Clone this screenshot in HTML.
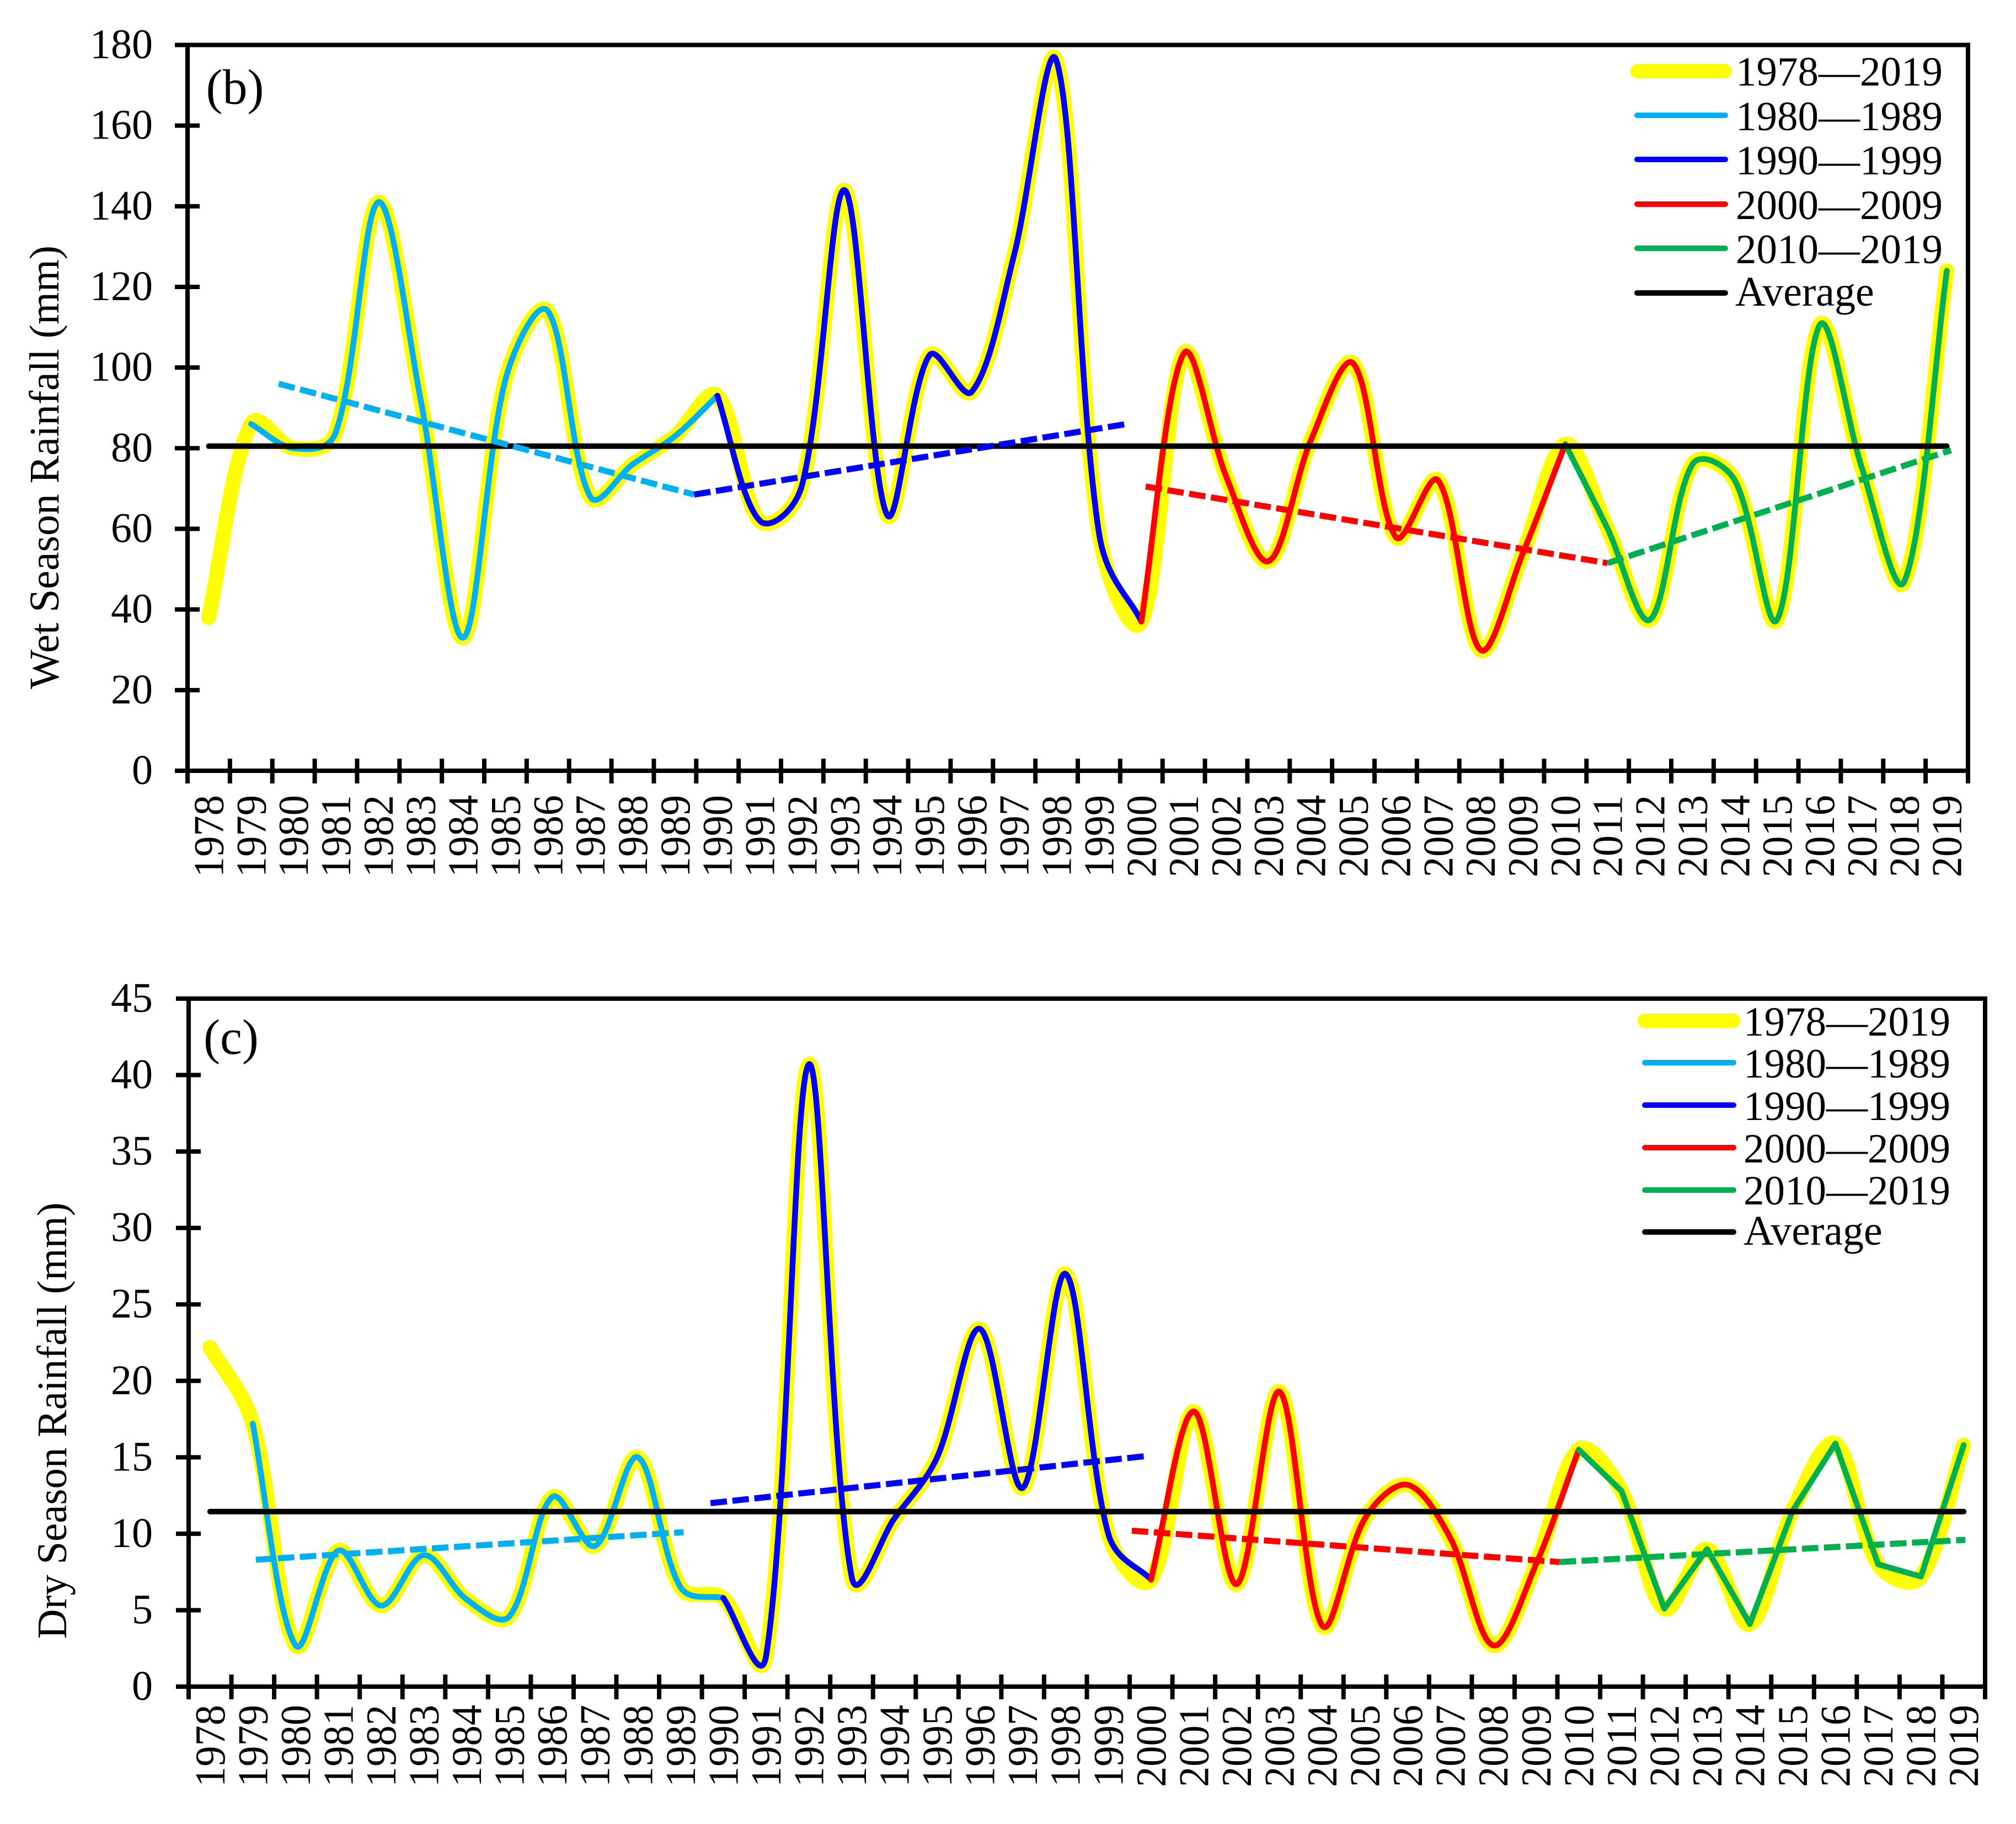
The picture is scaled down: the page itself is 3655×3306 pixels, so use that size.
<!DOCTYPE html>
<html>
<head>
<meta charset="utf-8">
<title>Wet and dry season rainfall</title>
<style>
html,body{margin:0;padding:0;background:#fff;width:3655px;height:3306px;overflow:hidden}
svg{display:block}
text{font-family:"Liberation Serif","Times New Roman",serif;fill:#000}
</style>
</head>
<body>
<svg id="chart" xmlns="http://www.w3.org/2000/svg" width="3655" height="3306" viewBox="0 0 3655 3306">
  <rect width="3655" height="3306" fill="#fff"/>
  <g id="panelB"></g>
  <g id="panelC"></g>

  <text transform="translate(106,847) rotate(-90)" text-anchor="middle" font-size="76" textLength="804" lengthAdjust="spacingAndGlyphs">Wet Season Rainfall (mm)</text>
  <text transform="translate(120,2575) rotate(-90)" text-anchor="middle" font-size="76" textLength="791" lengthAdjust="spacingAndGlyphs">Dry Season Rainfall (mm)</text>
  <text x="373.5" y="188" font-size="90">(b)</text>
  <text x="369" y="1910" font-size="90">(c)</text>

  <g>
    <line x1="2969" x2="3127" y1="129" y2="129" stroke="#FFFF00" stroke-width="26" stroke-linecap="round"/>
    <text x="3147" y="155" font-size="75">1978—2019</text>
    <line x1="2968" x2="3128" y1="209" y2="209" stroke="#00B0F0" stroke-width="10" stroke-linecap="round"/>
    <text x="3147" y="236" font-size="75">1980—1989</text>
    <line x1="2968" x2="3128" y1="289" y2="289" stroke="#0000FF" stroke-width="10" stroke-linecap="round"/>
    <text x="3147" y="316" font-size="75">1990—1999</text>
    <line x1="2968" x2="3128" y1="370" y2="370" stroke="#FF0000" stroke-width="10" stroke-linecap="round"/>
    <text x="3147" y="397" font-size="75">2000—2009</text>
    <line x1="2968" x2="3128" y1="450" y2="450" stroke="#00B050" stroke-width="10" stroke-linecap="round"/>
    <text x="3147" y="477" font-size="75">2010—2019</text>
    <line x1="2968" x2="3128" y1="531" y2="531" stroke="#000" stroke-width="10" stroke-linecap="round"/>
    <text x="3146" y="554" font-size="76">Average</text>
  </g>

  <g>
    <line x1="2982" x2="3142" y1="1850" y2="1850" stroke="#FFFF00" stroke-width="26" stroke-linecap="round"/>
    <text x="3161" y="1877" font-size="75">1978—2019</text>
    <line x1="2982" x2="3143" y1="1926" y2="1926" stroke="#00B0F0" stroke-width="10" stroke-linecap="round"/>
    <text x="3161" y="1953" font-size="75">1980—1989</text>
    <line x1="2982" x2="3143" y1="2003" y2="2003" stroke="#0000FF" stroke-width="10" stroke-linecap="round"/>
    <text x="3161" y="2030" font-size="75">1990—1999</text>
    <line x1="2982" x2="3143" y1="2080" y2="2080" stroke="#FF0000" stroke-width="10" stroke-linecap="round"/>
    <text x="3161" y="2107" font-size="75">2000—2009</text>
    <line x1="2982" x2="3143" y1="2157" y2="2157" stroke="#00B050" stroke-width="10" stroke-linecap="round"/>
    <text x="3161" y="2183" font-size="75">2010—2019</text>
    <line x1="2982" x2="3143" y1="2233" y2="2233" stroke="#000" stroke-width="10" stroke-linecap="round"/>
    <text x="3161" y="2256" font-size="76">Average</text>
  </g>
</svg>
<script>
var years = [1978,1979,1980,1981,1982,1983,1984,1985,1986,1987,1988,1989,1990,1991,1992,1993,1994,1995,1996,1997,1998,1999,2000,2001,2002,2003,2004,2005,2006,2007,2008,2009,2010,2011,2012,2013,2014,2015,2016,2017,2018,2019];
var wetRainfall = [38,86,80,84,141,92,33,97,114,68,76,83,93,62,71,144,63.5,103,94,128,176,59,37,103.5,73,52,82,101,58,72,30,54,81,60,37.5,76,72,37.5,110.5,75,47,124];
var dryRainfall = [22.2,17.2,2.7,8.9,5.3,8.6,5.7,4.6,12.4,9.2,15,6.5,5.8,2,40.7,7.2,11,15,23.4,13,27,10,7,18,6.7,19.3,4,11,13.2,9.7,2.7,8,15.5,12.8,5.1,9,4.1,11.5,15.9,8,7.2,15.8];
var wetTicks = [0,20,40,60,80,100,120,140,160,180];
var dryTicks = [0,5,10,15,20,25,30,35,40,45];
var wetAverage = 80.5;
var dryAverage = 11.45;
var decadeNames = ['1980s','1990s','2000s','2010s'];
var decadeFirstYears = [1979,1990,2000,2010];
var decadeLastYears = [1990,2000,2010,2019];
var wetTrendStartYears = [1979.65,1989.45,2000.1,2011];
var wetTrendEndYears = [1989.45,1999.65,2011,2019.1];
var wetTrendStartValues = [96,68.5,70.5,51.5];
var wetTrendEndValues = [68.5,86,51.5,79.5];
var dryTrendStartYears = [1979.07,1989.7,1999.55,2009.55];
var dryTrendEndYears = [1989.07,1999.95,2009.55,2019.04];
var dryTrendStartValues = [8.3,12,10.2,8.15];
var dryTrendEndValues = [10.1,15.1,8.15,9.6];

var NS = 'http://www.w3.org/2000/svg';
var decadeColors = ['#00B0F0','#0000FF','#FF0000','#00B050'];

function make(parent, tag, attrs) {
  var el = document.createElementNS(NS, tag);
  for (var k in attrs) el.setAttribute(k, attrs[k]);
  parent.appendChild(el);
  return el;
}

// Excel-style smoothing: tangent follows the neighbour chord, handle length mostly scales with the adjacent segment.
function smoothPath(pts) {
  function dist(a, b) { return Math.hypot(a[0] - b[0], a[1] - b[1]); }
  function handle(near, far) { return (0.125 + 0.75 * near / (near + far)) / 3; }
  var d = 'M' + pts[0][0].toFixed(1) + ' ' + pts[0][1].toFixed(1);
  for (var i = 0; i < pts.length - 1; i++) {
    var p0 = pts[Math.max(i - 1, 0)], p1 = pts[i], p2 = pts[i + 1], p3 = pts[Math.min(i + 2, pts.length - 1)];
    var d01 = dist(p0, p1), d12 = dist(p1, p2), d23 = dist(p2, p3);
    var a = handle(d12, d01), b = handle(d12, d23);
    var c1x = p1[0] + (p2[0] - p0[0]) * a, c1y = p1[1] + (p2[1] - p0[1]) * a;
    var c2x = p2[0] - (p3[0] - p1[0]) * b, c2y = p2[1] - (p3[1] - p1[1]) * b;
    d += 'C' + c1x.toFixed(1) + ' ' + c1y.toFixed(1) + ' ' + c2x.toFixed(1) + ' ' + c2y.toFixed(1) + ' ' + p2[0].toFixed(1) + ' ' + p2[1].toFixed(1);
  }
  return d;
}

function straightPath(pts) {
  return pts.map(function (p, i) { return (i ? 'L' : 'M') + p[0].toFixed(1) + ' ' + p[1].toFixed(1); }).join('');
}

function drawPanel(cfg) {
  var g = document.getElementById(cfg.id);
  var step = (cfg.right - cfg.left) / years.length;
  var yMax = cfg.ticks[cfg.ticks.length - 1];
  function xOf(year) { return cfg.left + (year - years[0] + 0.5) * step; }
  function yOf(v) { return cfg.bottom - (v / yMax) * (cfg.bottom - cfg.top); }
  function pointsBetween(a, b) {
    var out = [];
    years.forEach(function (yr, i) { if (yr >= a && yr <= b) out.push([xOf(yr), yOf(cfg.values[i])]); });
    return out;
  }

  // frame
  var frame = make(g, 'path', { d: 'M' + cfg.left + ' ' + cfg.bottom + 'V' + cfg.top + 'H' + cfg.right + 'V' + (cfg.bottom + 23), fill: 'none', stroke: '#000', 'stroke-width': 8 });
  
  
  var baseAxis = make(g, 'line', { x1: cfg.left - 23, x2: cfg.right + 4, y1: cfg.bottom, y2: cfg.bottom, stroke: '#000', 'stroke-width': 8 });
  
  

  // y ticks
  cfg.ticks.forEach(function (t) {
    var ty = yOf(t);
    var mark = make(g, 'line', { x1: cfg.left - 23, x2: t === yMax ? cfg.left : cfg.left + 22, y1: ty, y2: ty, stroke: '#000', 'stroke-width': 8 });
    
    
    var lab = make(g, 'text', { x: 277, y: ty + 24, 'text-anchor': 'end', 'font-size': 76 });
    
    
    lab.textContent = t;
  });

  // x ticks and labels
  years.forEach(function (yr, i) {
    var tx = cfg.left + i * step;
    var mark = make(g, 'line', { x1: tx, x2: tx, y1: cfg.bottom - 22, y2: cfg.bottom + 23, stroke: '#000', 'stroke-width': 8 });
    
    
    var lab = make(g, 'text', { transform: 'translate(' + (xOf(yr) + 26) + ',' + cfg.labelTop + ') rotate(-90)', 'text-anchor': 'end', 'font-size': 77, textLength: 149, lengthAdjust: 'spacingAndGlyphs' });
    
    
    lab.textContent = yr;
  });

  // full-period thick yellow series
  var allPts = pointsBetween(years[0], years[years.length - 1]);
  var allLine = make(g, 'path', { d: smoothPath(allPts), fill: 'none', stroke: '#FFFF00', 'stroke-width': 27, 'stroke-linecap': 'round', 'stroke-linejoin': 'round' });
  
  

  // decade series
  decadeNames.forEach(function (name, i) {
    var pts = pointsBetween(decadeFirstYears[i], decadeLastYears[i]);
    var straight = cfg.straightLast && i === decadeNames.length - 1;
    var line = make(g, 'path', { d: straight ? straightPath(pts) : smoothPath(pts), fill: 'none', stroke: decadeColors[i], 'stroke-width': 10.5, 'stroke-linecap': 'round', 'stroke-linejoin': 'round' });
    
    
  });

  // average line
  var avg = make(g, 'line', { x1: xOf(years[0]), x2: xOf(years[years.length - 1]), y1: yOf(cfg.average), y2: yOf(cfg.average), stroke: '#000', 'stroke-width': 10, 'stroke-linecap': 'round' });
  
  

  // dashed trends
  decadeNames.forEach(function (name, i) {
    var trend = make(g, 'line', { x1: xOf(cfg.trendStartYears[i]), x2: xOf(cfg.trendEndYears[i]), y1: yOf(cfg.trendStartValues[i]), y2: yOf(cfg.trendEndValues[i]), stroke: decadeColors[i], 'stroke-width': 11, 'stroke-dasharray': '30 10' });
    
    
  });
}

drawPanel({ id: 'panelB', prefix: 'wet', left: 340, right: 3568, top: 81.5, bottom: 1397, labelTop: 1441, ticks: wetTicks, values: wetRainfall, average: wetAverage, straightLast: false,
  trendStartYears: wetTrendStartYears, trendEndYears: wetTrendEndYears, trendStartValues: wetTrendStartValues, trendEndValues: wetTrendEndValues });
drawPanel({ id: 'panelC', prefix: 'dry', left: 342, right: 3599, top: 1810, bottom: 3057, labelTop: 3090, ticks: dryTicks, values: dryRainfall, average: dryAverage, straightLast: true,
  trendStartYears: dryTrendStartYears, trendEndYears: dryTrendEndYears, trendStartValues: dryTrendStartValues, trendEndValues: dryTrendEndValues });
</script>
</body>
</html>
